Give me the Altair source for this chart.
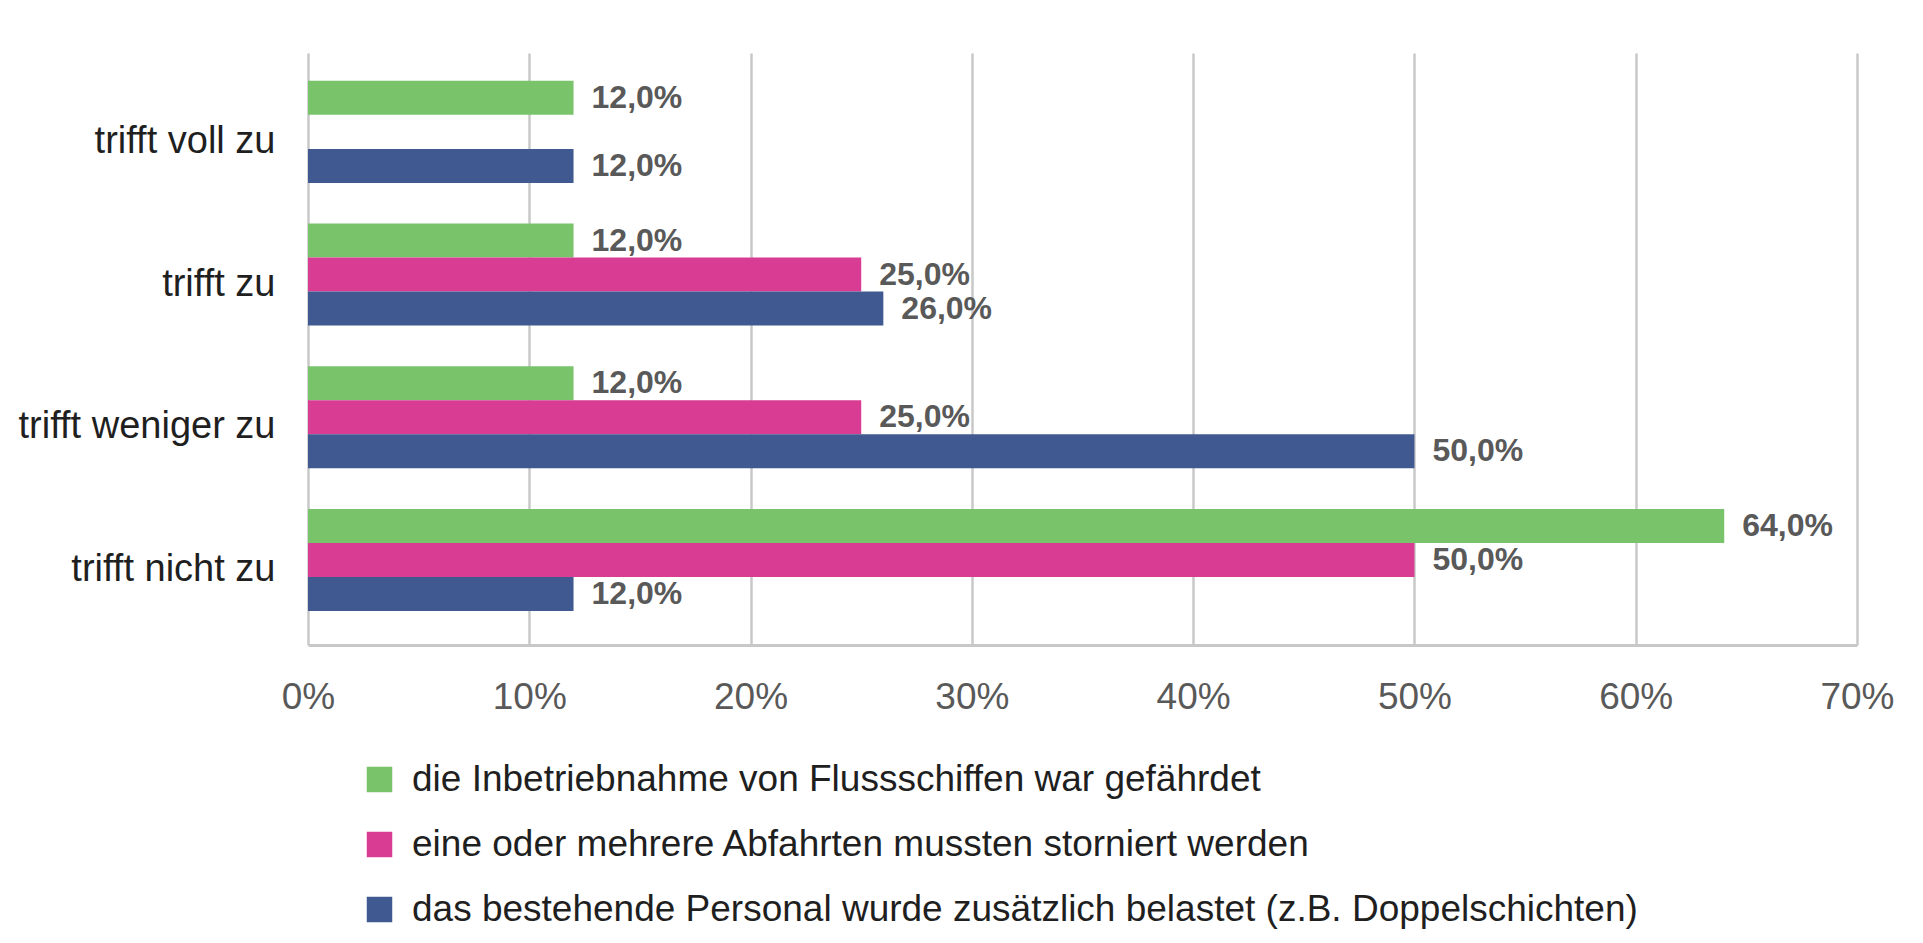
import altair as alt
import pandas as pd

categories = ["trifft voll zu", "trifft zu", "trifft weniger zu", "trifft nicht zu"]
series = [
    "die Inbetriebnahme von Flussschiffen war gefährdet",
    "eine oder mehrere Abfahrten mussten storniert werden",
    "das bestehende Personal wurde zusätzlich belastet (z.B. Doppelschichten)",
]
green_values = [12.0, 12.0, 12.0, 64.0]
pink_values = [None, 25.0, 25.0, 50.0]
blue_values = [12.0, 26.0, 50.0, 12.0]
colors = ["#79c36a", "#d83c93", "#405a91"]
x_ticks = [0, 10, 20, 30, 40, 50, 60, 70]

rows = []
for s, vals in zip(series, [green_values, pink_values, blue_values]):
    for c, v in zip(categories, vals):
        if v is None:
            continue
        rows.append({
            "category": c,
            "series": s,
            "value": v,
            "label": f"{v:.1f}".replace(".", ",") + "%",
        })
df = pd.DataFrame(rows)

FONT = "Liberation Sans"

base = alt.Chart(df).encode(
    y=alt.Y(
        "category:N",
        sort=categories,
        scale=alt.Scale(paddingInner=0.285, paddingOuter=0.217, align=0.45),
        axis=alt.Axis(
            title=None, labelFontSize=38, labelColor="#1f1f1f", labelPadding=33,
            labelOffset=10, ticks=False, domain=False, grid=False,
            labelFont=FONT, labelLimit=0,
        ),
    ),
    yOffset=alt.YOffset(
        "series:N", sort=series,
        scale=alt.Scale(domain=series, paddingInner=0, paddingOuter=0),
    ),
    x=alt.X(
        "value:Q",
        scale=alt.Scale(domain=[0, 70], nice=False),
        axis=alt.Axis(
            title=None, values=x_ticks, labelExpr="datum.value + '%'",
            labelFontSize=37, labelColor="#595959", labelFont=FONT,
            labelFlush=False,
            grid=True, gridColor="#c8c8c8", gridWidth=2.5,
            domainColor="#c8c8c8", domainWidth=3, ticks=False, labelPadding=34,
        ),
    ),
)

bars = base.mark_bar(stroke=None).encode(
    color=alt.Color(
        "series:N",
        sort=series,
        scale=alt.Scale(domain=series, range=colors),
        legend=alt.Legend(
            title=None, orient="none", legendX=53, legendY=708,
            direction="vertical", symbolType="square", symbolSize=650,
            symbolStrokeWidth=0, labelFontSize=37, labelColor="#1f1f1f",
            labelFont=FONT, rowPadding=27, labelOffset=14, labelLimit=0,
        ),
    )
)

text = base.mark_text(
    align="left", baseline="middle", dx=18, fontWeight="bold",
    fontSize=32, color="#595959", font=FONT,
).encode(text="label:N")

chart = (
    alt.layer(bars, text)
    .properties(
        width=1549, height=592,
        padding={"left": 300, "top": 45, "right": 50, "bottom": 295},
        autosize=alt.AutoSizeParams(type="none"),
        background="white",
    )
    .configure_view(stroke=None)
)

chart.save("out.html", embed_options={"renderer": "svg", "actions": False})
